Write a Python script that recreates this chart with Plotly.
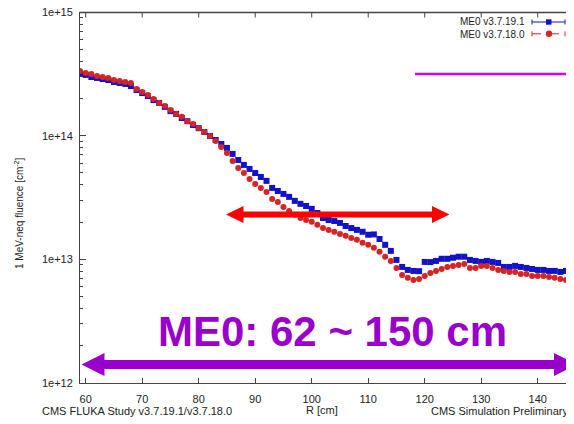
import plotly.graph_objects as go

# ---------------- data ----------------
r_cm = [59, 60, 61, 62, 63, 64, 65, 66, 67, 68, 69, 70, 71, 72, 73, 74, 75, 76, 77, 78,
        79, 80, 81, 82, 83, 84, 85, 86, 87, 88, 89, 90, 91, 92, 93, 94, 95, 96, 97, 98,
        99, 100, 101, 102, 103, 104, 105, 106, 107, 108, 109, 110, 111, 112, 113, 114,
        115, 116, 117, 118, 119, 120, 121, 122, 123, 124, 125, 126, 127, 128, 129, 130,
        131, 132, 133, 134, 135, 136, 137, 138, 139, 140, 141, 142, 143, 144, 145, 146]

fluence_v37191 = [
    3.15e14, 3.10e14, 2.98e14, 2.93e14, 2.87e14, 2.82e14, 2.72e14, 2.67e14, 2.62e14, 2.52e14,
    2.34e14, 2.21e14, 2.09e14, 1.94e14, 1.84e14, 1.71e14, 1.58e14, 1.50e14, 1.39e14, 1.31e14,
    1.22e14, 1.15e14, 1.07e14, 9.95e13, 9.23e13, 8.57e13, 7.96e13, 7.12e13, 6.36e13, 5.80e13,
    5.38e13, 4.99e13, 4.63e13, 4.31e13,
    3.78e13, 3.57e13, 3.38e13, 3.20e13, 2.97e13, 2.81e13, 2.70e13, 2.56e13, 2.37e13, 2.16e13,
    2.08e13, 2.04e13, 1.97e13, 1.86e13, 1.79e13, 1.73e13, 1.67e13, 1.58e13, 1.59e13, 1.46e13,
    1.31e13, 1.17e13, 9.89e12, 8.68e12, 8.21e12, 8.06e12, 8.02e12, 9.53e12, 9.50e12, 9.71e12,
    1.01e13, 1.01e13, 1.03e13, 1.05e13, 1.05e13, 9.89e12, 9.71e12, 9.53e12, 9.71e12, 9.53e12,
    9.35e12, 8.68e12, 8.68e12, 8.85e12, 8.68e12, 8.52e12,
    8.36e12, 8.21e12, 8.21e12, 8.06e12, 8.06e12, 7.91e12, 8.06e12, 7.34e12]

fluence_v37180 = [
    3.33e14, 3.21e14, 3.15e14, 3.04e14, 2.98e14, 2.93e14, 2.82e14, 2.77e14, 2.72e14, 2.67e14,
    2.39e14, 2.25e14, 2.13e14, 1.98e14, 1.84e14, 1.74e14, 1.61e14, 1.50e14, 1.42e14, 1.31e14,
    1.24e14, 1.15e14, 1.07e14, 9.95e13, 9.06e13, 8.11e13, 7.25e13, 6.24e13, 5.48e13, 4.99e13,
    4.47e13, 4.07e13, 3.78e13, 3.51e13,
    3.08e13, 2.91e13, 2.65e13, 2.46e13, 2.29e13, 2.16e13, 2.08e13, 2.01e13, 1.90e13, 1.79e13,
    1.73e13, 1.67e13, 1.60e13, 1.55e13, 1.49e13, 1.44e13, 1.36e13, 1.31e13, 1.24e13, 1.15e13,
    1.05e13, 9.71e12, 8.52e12, 7.48e12, 7.08e12, 6.82e12, 6.94e12, 7.34e12, 7.76e12, 8.06e12,
    8.36e12, 8.68e12, 8.85e12, 9.01e12, 9.18e12, 8.52e12, 8.52e12, 8.85e12, 8.85e12, 8.52e12,
    8.21e12, 8.06e12, 7.91e12, 7.91e12, 7.62e12, 7.62e12,
    7.34e12, 7.34e12, 7.34e12, 7.21e12, 7.08e12, 6.94e12, 6.82e12, 6.32e12]

x_ticks = [60, 70, 80, 90, 100, 110, 120, 130, 140]
y_ticks = [1e12, 1e13, 1e14, 1e15]
y_ticktext = ["1e+12", "1e+13", "1e+14", "1e+15"]
y_minor = [2e12, 3e12, 4e12, 5e12, 6e12, 7e12, 8e12, 9e12,
           2e13, 3e13, 4e13, 5e13, 6e13, 7e13, 8e13, 9e13,
           2e14, 3e14, 4e14, 5e14, 6e14, 7e14, 8e14, 9e14]

series_names = ["ME0 v3.7.19.1", "ME0 v3.7.18.0"]
BLUE = "#1212c8"
RED = "#d62424"
PURPLE = "#9900cc"
MAGENTA = "#cc00ff"
AXIS = "#444"
FONT = "Liberation Sans, Arial, sans-serif"

# ---------------- layout geometry ----------------
# the page body has an 8px margin, so the figure is 8px smaller than the window
W, H = 566, 416
L, R, T, B = 72, 0, 4, 41
PW, PH = W - L - R, H - T - B
# page-pixel positions of the plot area
PAGE_L, PAGE_B = 80, 383


def px(x):
    return (x - PAGE_L) / PW


def py(y):
    return (PAGE_B - y) / PH


def P(x, y):
    return f"{px(x):.5f},{py(y):.5f}"


fig = go.Figure()
fig.add_trace(go.Scatter(x=r_cm, y=fluence_v37191, mode="markers", name=series_names[0],
                         marker=dict(symbol="square", size=6, color=BLUE),
                         showlegend=False))
fig.add_trace(go.Scatter(x=r_cm, y=fluence_v37180, mode="markers", name=series_names[1],
                         marker=dict(symbol="circle", size=6, color=RED),
                         showlegend=False))

shapes = []
annots = []

# top frame line and mirrored top ticks
shapes.append(dict(type="line", xref="paper", yref="paper", x0=px(79.5), x1=px(576),
                   y0=py(12.5), y1=py(12.5), line=dict(color=AXIS, width=1.3), layer="above"))
for tv in x_ticks:
    shapes.append(dict(type="line", xref="x", yref="paper", x0=tv, x1=tv,
                       y0=py(12.5), y1=py(17.5), line=dict(color=AXIS, width=1), layer="above"))


def double_arrow(x0, x1, yc, half_shaft, half_head, head_len, color):
    path = ("M " + P(x0, yc) + " L " + P(x0 + head_len, yc - half_head) + " L " +
            P(x0 + head_len, yc - half_shaft) + " L " + P(x1 - head_len, yc - half_shaft) +
            " L " + P(x1 - head_len, yc - half_head) + " L " + P(x1, yc) + " L " +
            P(x1 - head_len, yc + half_head) + " L " + P(x1 - head_len, yc + half_shaft) +
            " L " + P(x0 + head_len, yc + half_shaft) + " L " + P(x0 + head_len, yc + half_head) + " Z")
    shapes.append(dict(type="path", xref="paper", yref="paper", path=path,
                       fillcolor=color, line=dict(width=0), layer="above"))


# red arrow
double_arrow(226, 449.5, 214.5, 3, 8.5, 17.5, "#ff0000")
# purple arrow
double_arrow(81.5, 577, 364.5, 4.5, 11.5, 23, PURPLE)
# magenta line
shapes.append(dict(type="line", xref="paper", yref="paper", x0=px(415), x1=px(576),
                   y0=py(74), y1=py(74), line=dict(color=MAGENTA, width=2.5), layer="above"))

# manual legend samples
for (yy, col, dash) in [(22.0, BLUE, "solid"), (33.8, RED, "dash")]:
    shapes.append(dict(type="line", xref="paper", yref="paper", x0=px(532), x1=px(565),
                       y0=py(yy), y1=py(yy), line=dict(color=col, width=1, dash=dash)))
    for xc in (532, 565):
        shapes.append(dict(type="line", xref="paper", yref="paper", x0=px(xc), x1=px(xc),
                           y0=py(yy - 2.5), y1=py(yy + 2.5), line=dict(color=col, width=1)))
shapes.append(dict(type="rect", xref="paper", yref="paper", x0=px(546), x1=px(551.5),
                   y0=py(24.7), y1=py(19.3), fillcolor=BLUE, line=dict(width=0)))
shapes.append(dict(type="circle", xref="paper", yref="paper", x0=px(545.8), x1=px(552.2),
                   y0=py(37.0), y1=py(30.6), fillcolor=RED, line=dict(width=0)))

annots.append(dict(xref="paper", yref="paper", x=px(527), y=py(28), align="right",
                   text=series_names[0] + "<br>" + series_names[1],
                   xanchor="right", yanchor="middle", showarrow=False,
                   font=dict(family=FONT, size=10, color="#222")))

# texts
annots.append(dict(xref="paper", yref="paper", x=px(332), y=py(331), text="<b>ME0: 62 ~ 150 cm</b>",
                   xanchor="center", yanchor="middle", showarrow=False,
                   font=dict(family=FONT, size=42, color=PURPLE)))
annots.append(dict(xref="paper", yref="paper", x=px(40), y=py(411),
                   text="CMS FLUKA Study v3.7.19.1/v3.7.18.0",
                   xanchor="left", yanchor="middle", showarrow=False,
                   font=dict(family=FONT, size=11, color="#222")))
annots.append(dict(xref="paper", yref="paper", x=px(429), y=py(411),
                   text="CMS Simulation Preliminary",
                   xanchor="left", yanchor="middle", showarrow=False,
                   font=dict(family=FONT, size=11, color="#222")))
annots.append(dict(xref="paper", yref="paper", x=px(322), y=py(410),
                   text="R [cm]",
                   xanchor="center", yanchor="middle", showarrow=False,
                   font=dict(family=FONT, size=11, color="#222")))
annots.append(dict(xref="paper", yref="paper", x=px(19), y=py(213),
                   text="1 MeV-neq fluence [cm<sup>-2</sup>]", textangle=-90,
                   xanchor="center", yanchor="middle", showarrow=False,
                   font=dict(family=FONT, size=10, color="#222")))

fig.update_layout(
    width=W, height=H,
    margin=dict(l=L, r=R, t=T, b=B, pad=0),
    paper_bgcolor="white", plot_bgcolor="white",
    font=dict(family=FONT, size=11, color="#222"),
    shapes=shapes, annotations=annots,
    xaxis=dict(range=[58.99, 146.42], tickvals=x_ticks, ticks="inside", ticklen=5,
               tickcolor=AXIS, showline=True, linecolor=AXIS, linewidth=1,
               mirror=False, showgrid=False, zeroline=False, automargin=False,
               ticklabelstandoff=6, ticklabeloverflow="allow",
               tickfont=dict(family=FONT, size=11, color="#222")),
    yaxis=dict(type="log", range=[11.9999, 15.0001], tickvals=y_ticks, ticktext=y_ticktext,
               ticks="inside", ticklen=6, tickcolor=AXIS, showline=True,
               linecolor=AXIS, linewidth=1, showgrid=False, zeroline=False,
               automargin=False, ticklabelstandoff=4, ticklabeloverflow="allow",
               minor=dict(tickvals=y_minor, ticks="inside", ticklen=3, tickcolor=AXIS,
                          showgrid=False),
               tickfont=dict(family=FONT, size=11, color="#222")),
)

fig.write_html("out.html")
